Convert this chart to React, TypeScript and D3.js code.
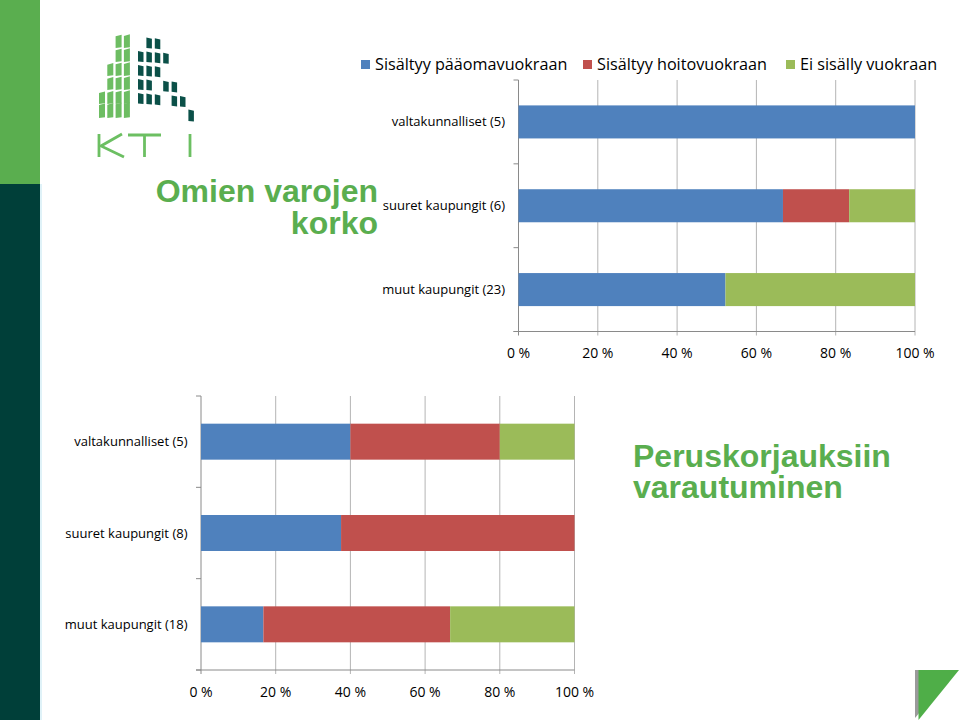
import React from "react";
import * as d3 from "d3";

// ---------- DATA ----------
const seriesNames = ["Sisältyy pääomavuokraan", "Sisältyy hoitovuokraan", "Ei sisälly vuokraan"];
const seriesColors = ["#4f81bd", "#c0504d", "#9bbb59"];

const topCategories = ["valtakunnalliset (5)", "suuret kaupungit (6)", "muut kaupungit (23)"];
const topPaaoma = [100, 66.7, 52.2];
const topHoito = [0, 16.7, 0];
const topEi = [0, 16.6, 47.8];

const bottomCategories = ["valtakunnalliset (5)", "suuret kaupungit (8)", "muut kaupungit (18)"];
const bottomPaaoma = [40, 37.5, 16.7];
const bottomHoito = [40, 62.5, 50];
const bottomEi = [20, 0, 33.3];

const xTicks = [0, 20, 40, 60, 80, 100];
const xTickLabels = ["0 %", "20 %", "40 %", "60 %", "80 %", "100 %"];

const titleTop = ["Omien varojen", "korko"];
const titleBottom = ["Peruskorjauksiin", "varautuminen"];

// logo decoration (light face / dark face cells: [col,row])
const logoLight: [number, number][] = [
  [0, 0], [1, 0], [2, 0], [3, 0],
  [0, 1], [1, 1], [2, 1], [3, 1],
  [1, 2], [2, 2], [3, 2],
  [1, 3], [2, 3], [3, 3],
  [2, 4], [3, 4],
  [2, 5], [3, 5],
];
const logoDark: [number, number][] = [
  [0, 1], [0, 2], [0, 3], [0, 4],
  [1, 1], [1, 2], [1, 3], [1, 4], [1, 5],
  [2, 1], [2, 3], [2, 4], [2, 5],
  [3, 2], [3, 4],
  [4, 1], [4, 2],
  [5, 1],
  [6, 0],
];

const FONT = "'Open Sans', Lato, sans-serif";
const TITLE_FONT = "'Liberation Sans', Arial, sans-serif";
const GREEN = "#5aae4f";

type ChartProps = {
  cats: string[];
  s1: number[];
  s2: number[];
  s3: number[];
  left: number;
  right: number;
  top: number;
  bottom: number;
  padding: number;
};

function StackedBar({ cats, s1, s2, s3, left, right, top, bottom, padding }: ChartProps) {
  const x = d3.scaleLinear().domain([0, 100]).range([left, right]);
  const y = d3.scaleBand<string>().domain(cats).range([top, bottom]).paddingInner(padding).paddingOuter(padding / 2);
  const rows = cats.map((c, i) => ({ cat: c, a: s1[i], b: s2[i], c3: s3[i] }));
  const stack = d3.stack<any>().keys(["a", "b", "c3"]);
  const layers = stack(rows);
  const step = (bottom - top) / cats.length;
  const bounds = d3.range(cats.length + 1).map((i) => top + i * step);
  return (
    <g>
      {xTicks.map((t) => (
        <line key={"g" + t} x1={x(t)} x2={x(t)} y1={top} y2={bottom + 4} stroke={t === 0 ? "#8a8a8a" : "#b4b4b4"} strokeWidth={1} />
      ))}
      {bounds.map((b, i) => (
        <line key={"yt" + i} x1={left - 5} x2={left} y1={b} y2={b} stroke="#8a8a8a" strokeWidth={1} />
      ))}
      <line x1={left - 5} x2={right} y1={bottom} y2={bottom} stroke="#8a8a8a" strokeWidth={1} />
      {layers.map((layer, li) =>
        layer.map((d, i) => (
          <rect
            key={li + "-" + i}
            x={x(d[0])}
            y={y(cats[i])}
            width={Math.max(0, x(d[1]) - x(d[0]))}
            height={y.bandwidth()}
            fill={seriesColors[li]}
          />
        ))
      )}
      {cats.map((c) => (
        <text key={c} x={left - 13.5} y={(y(c) as number) + y.bandwidth() / 2} dy="0.35em" textAnchor="end" fontFamily={FONT} fontSize={13} fill="#000">
          {c}
        </text>
      ))}
      {xTicks.map((t, i) => (
        <text key={"l" + t} x={x(t)} y={bottom + 26.5} textAnchor="middle" fontFamily={FONT} fontSize={14} fill="#000">
          {xTickLabels[i]}
        </text>
      ))}
    </g>
  );
}

function Logo() {
  const lightX = (c: number) => 99 + c * 8.3;
  const darkX = (c: number) => 138 + c * 8.4;
  const rowBottom = (r: number) => 118 - r * 14;
  return (
    <g>
      {logoLight.map(([c, r], i) => {
        const x0 = lightX(c);
        const w = 6;
        const yb = rowBottom(r);
        const h = r === 0 ? 13 : 11;
        const skew = 1.5 + c * 0.4;
        const pts = [
          [x0, yb],
          [x0 + w, yb - 0.8],
          [x0 + w, yb - h - skew],
          [x0, yb - h - skew + 1.6],
        ];
        return <polygon key={"L" + i} points={pts.map((p) => p.join(",")).join(" ")} fill="#6dbd62" />;
      })}
      {logoDark.map(([c, r], i) => {
        const x0 = darkX(c);
        const w = 5.5;
        const yb = rowBottom(r) + c * 0.6;
        const h = r === 0 ? 12 : 11;
        const pts = [
          [x0, yb - 0.6],
          [x0 + w, yb],
          [x0 + w, yb - h + 1.2],
          [x0, yb - h],
        ];
        return <polygon key={"D" + i} points={pts.map((p) => p.join(",")).join(" ")} fill="#0b5048" />;
      })}
      <g stroke="#6cbf62" strokeWidth={2.8} fill="none" strokeLinecap="butt">
        <line x1={99} y1={134} x2={99} y2={157} />
        <polyline points="122,134 101,146 124,157" />
        <line x1={128} y1={135} x2={161} y2={135} />
        <line x1={144.5} y1={135} x2={144.5} y2={157} />
        <line x1={190} y1={134} x2={190} y2={157} />
      </g>
    </g>
  );
}

export default function App() {
  const legendX = [361, 583, 786];
  return (
    <svg width={960} height={720} style={{ position: "absolute", left: 0, top: 0, background: "#fff" }}>
      <rect x={0} y={0} width={960} height={720} fill="#fff" />
      {/* left stripe */}
      <rect x={0} y={0} width={40} height={184} fill="#5aae4f" />
      <rect x={0} y={184} width={40} height={536} fill="#003f39" />
      <rect x={40} y={184} width={2} height={536} fill="#dff2f8" />

      <Logo />

      {/* titles */}
      {titleTop.map((t, i) => (
        <text key={t} x={378} y={202 + i * 32} textAnchor="end" fontFamily={TITLE_FONT} fontWeight="bold" fontSize={32} fill={GREEN}>
          {t}
        </text>
      ))}
      {titleBottom.map((t, i) => (
        <text key={t} x={633} y={467 + i * 31} textAnchor="start" fontFamily={TITLE_FONT} fontWeight="bold" fontSize={32} fill={GREEN}>
          {t}
        </text>
      ))}

      {/* legend */}
      {seriesNames.map((s, i) => (
        <g key={s}>
          <rect x={legendX[i]} y={60} width={9} height={9} fill={seriesColors[i]} />
          <text x={legendX[i] + 14} y={64.5} dy="0.35em" fontFamily={FONT} fontSize={16.2} fill="#000">
            {s}
          </text>
        </g>
      ))}

      <StackedBar cats={topCategories} s1={topPaaoma} s2={topHoito} s3={topEi} left={518.5} right={915} top={80} bottom={331.5} padding={0.606} />
      <StackedBar cats={bottomCategories} s1={bottomPaaoma} s2={bottomHoito} s3={bottomEi} left={201} right={574.5} top={396} bottom={670} padding={0.606} />

      {/* corner triangle */}
      <polygon points="915,670 955,670 915,718" fill="#9a9a9a" />
      <polygon points="918.5,670 959,670 918.5,720" fill="#4fae48" />
    </svg>
  );
}
